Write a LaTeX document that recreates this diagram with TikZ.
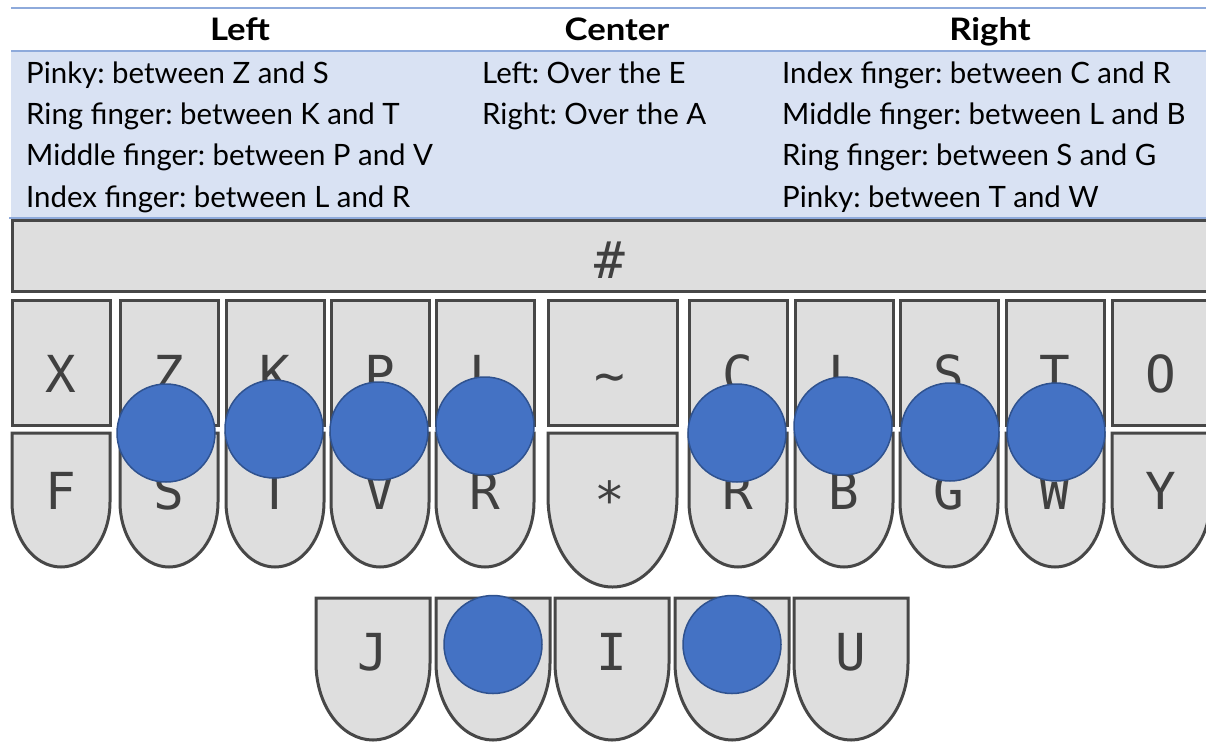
\documentclass[tikz,border=0pt]{standalone}
\usepackage{graphicx}
\usepackage{fontspec}
\setmainfont{Lato}
\newfontfamily\keyfont{DejaVu Sans Mono}
\frenchspacing
\definecolor{keyfill}{HTML}{DEDEDE}
\definecolor{keyline}{HTML}{474747}
\definecolor{keytext}{HTML}{404040}
\definecolor{dotfill}{HTML}{4472C4}
\definecolor{dotline}{HTML}{2F528F}
\definecolor{tabfill}{HTML}{D9E2F3}
\definecolor{tabline}{HTML}{8EAADB}
\tikzset{
  keyshape/.style={fill=keyfill, draw=keyline, line width=3pt},
  keylabel/.style={font=\keyfont\fontsize{51}{51}\selectfont, text=keytext, inner sep=0pt, anchor=base},
  finger/.style={circle, fill=dotfill, draw=dotline, line width=1.5pt, minimum size=98pt, inner sep=0pt},
  cell/.style={font=\fontsize{29.4}{29.4}\selectfont, inner sep=0pt, anchor=base west},
  head/.style={font=\bfseries\fontsize{31}{31}\selectfont, inner sep=0pt, anchor=base},
  tabrule/.style={draw=tabline, line width=2pt},
}
\newcommand\HeadText[1]{\scalebox{1.12}[1]{#1}}
% upper key: name, x0, label
\newcommand\UpKey[3]{%
  \draw[keyshape] (#2,-300) rectangle ++(98,-125);
  \node[keylabel] (#1) at (#2+49,-392) {#3};
}
% lower key: name, x0, label
\newcommand\LoKey[3]{%
  \draw[keyshape] (#2,-433) -- (#2,-502) arc[start angle=180, end angle=360, x radius=49pt, y radius=65pt] -- (#2+98,-433) -- cycle;
  \node[keylabel] (#1) at (#2+49,-509) {#3};
}
% bottom key: name, x0, label
\newcommand\BotKey[3]{%
  \draw[keyshape] (#2,-598) -- (#2,-663) arc[start angle=180, end angle=360, x radius=57pt, y radius=77pt] -- (#2+114,-598) -- cycle;
  \node[keylabel] (#1) at (#2+57,-670) {#3};
}
\begin{document}
\begin{tikzpicture}[x=1pt, y=1pt]
\clip (0,0) rectangle (1206,-742);
\fill[white] (0,0) rectangle (1206,-742);
% table
\fill[tabfill] (11,-51) rectangle (1206,-218);
\draw[tabrule] (11,-7.5) -- (1206,-7.5);
\draw[tabrule] (11,-51) -- (1206,-51);
\draw[tabrule] (9,-218) -- (1206,-218);
\node[head] (hl) at (240,-40) {\HeadText{Left}};
\node[head] (hc) at (617,-40) {\HeadText{Center}};
\node[head] (hr) at (990,-40) {\HeadText{Right}};
\node[cell] (l1) at (26,-83) {Pinky: between Z and S};
\node[cell] (l2) at (26,-124) {Ring finger: between K and T};
\node[cell] (l3) at (26,-165) {Middle finger: between P and V};
\node[cell] (l4) at (26,-207) {Index finger: between L and R};
\node[cell] (c1) at (482,-83) {Left: Over the E};
\node[cell] (c2) at (482,-124) {Right: Over the A};
\node[cell] (r1) at (782,-83) {Index finger: between C and R};
\node[cell] (r2) at (782,-124) {Middle finger: between L and B};
\node[cell] (r3) at (782,-165) {Ring finger: between S and G};
\node[cell] (r4) at (782,-207) {Pinky: between T and W};
% number bar
\draw[keyshape] (12,-220) rectangle (1215,-291);
\node[keylabel] (knum) at (610,-278) {\#};
% upper row
\UpKey{kX}{12}{X}
\UpKey{kZ}{120}{Z}
\UpKey{kK}{226}{K}
\UpKey{kP}{331}{P}
\UpKey{kL}{436}{L}
\UpKey{kC}{689}{C}
\UpKey{kLr}{795}{L}
\UpKey{kSr}{900}{S}
\UpKey{kTr}{1006}{T}
\UpKey{kO}{1112}{O}
\draw[keyshape] (548,-300) rectangle (677,-425);
\node[keylabel, anchor=center] (ktilde) at (610,-384) {\char`\~};
% lower row
\LoKey{kF}{12}{F}
\LoKey{kS}{120}{S}
\LoKey{kT}{226}{T}
\LoKey{kV}{331}{V}
\LoKey{kR}{436}{R}
\LoKey{kRr}{689}{R}
\LoKey{kB}{795}{B}
\LoKey{kG}{900}{G}
\LoKey{kW}{1006}{W}
\LoKey{kY}{1112}{Y}
\draw[keyshape] (548,-433) -- (548,-497) arc[start angle=180, end angle=360, x radius=64.5pt, y radius=90pt] -- (677,-433) -- cycle;
\node[keylabel] (kstar) at (610,-518) {*};
% bottom row
\BotKey{kJ}{316}{J}
\BotKey{kE}{436}{}
\BotKey{kI}{555}{I}
\BotKey{kA}{675}{}
\BotKey{kU}{794}{U}
% finger positions
\node[finger] (f1) at (166,-433) {};
\node[finger] (f2) at (274,-429) {};
\node[finger] (f3) at (379,-431) {};
\node[finger] (f4) at (485,-426) {};
\node[finger] (f5) at (737,-433) {};
\node[finger] (f6) at (843,-426) {};
\node[finger] (f7) at (950,-432) {};
\node[finger] (f8) at (1056,-432) {};
\node[finger] (t1) at (493,-644.5) {};
\node[finger] (t2) at (732,-644.5) {};
\end{tikzpicture}
\end{document}
